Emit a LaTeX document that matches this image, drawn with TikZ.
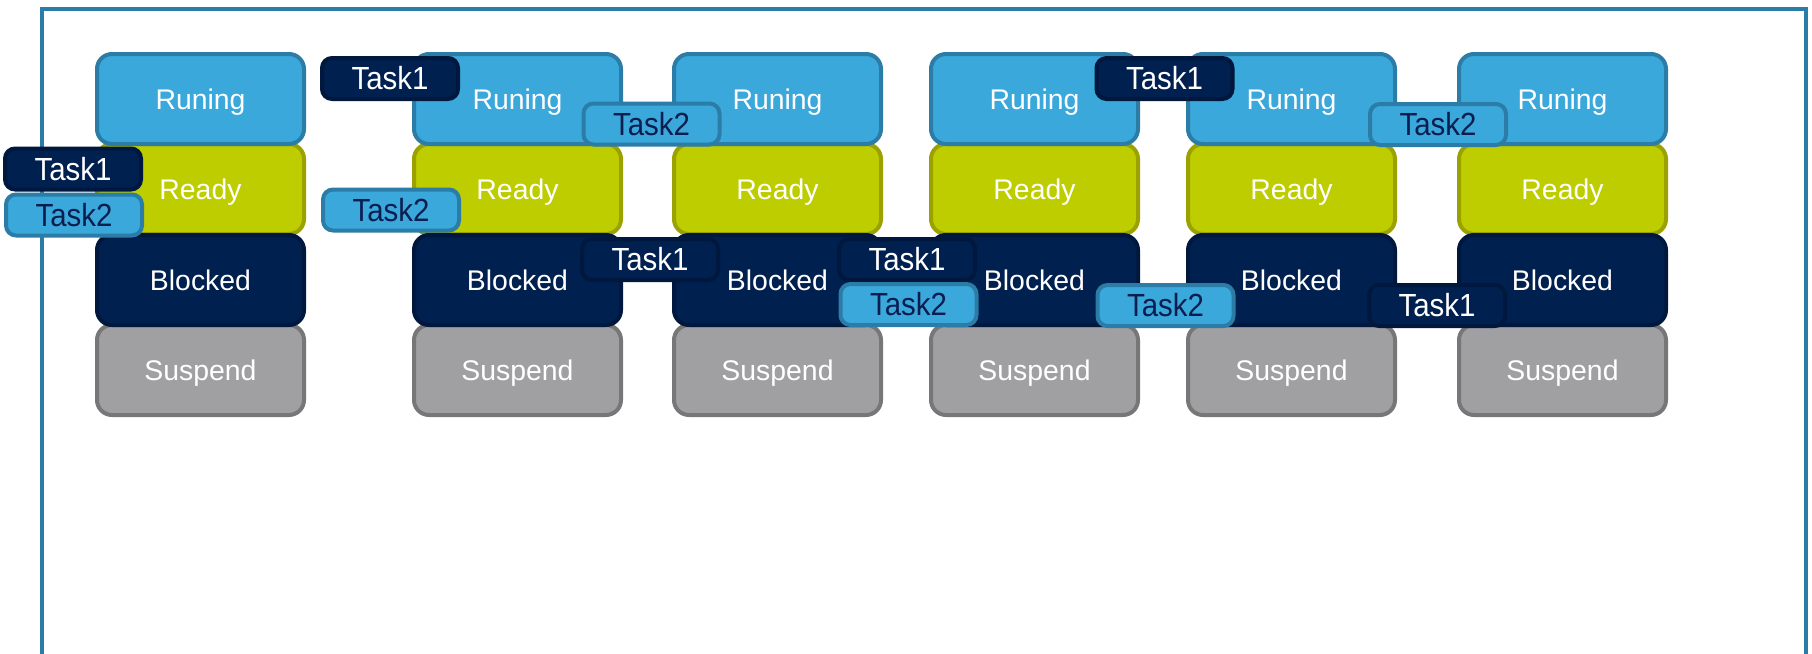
\documentclass[tikz,border=0pt]{standalone}
\usepackage{fontspec}
\setmainfont{Liberation Sans}
\newfontfamily\tagfont[FakeStretch=0.92]{Liberation Sans}
\definecolor{runfill}{HTML}{3AA8DB}
\definecolor{runline}{HTML}{2B7CA6}
\definecolor{rdyfill}{HTML}{BDCD00}
\definecolor{rdyline}{HTML}{9BA200}
\definecolor{blkfill}{HTML}{00204F}
\definecolor{blkline}{HTML}{00183D}
\definecolor{susfill}{HTML}{A0A0A2}
\definecolor{susline}{HTML}{777777}
\definecolor{tasktext}{HTML}{0A1E50}
\tikzset{
  statebox/.style={draw, line width=2pt, rounded corners=7.5pt, minimum width=103.5pt, minimum height=45pt,
    inner sep=0pt, outer sep=0pt, text=white, font=\fontsize{14.2}{16}\selectfont, text height=10.1pt, text depth=0pt},
  runbox/.style={statebox, fill=runfill, draw=runline},
  rdybox/.style={statebox, fill=rdyfill, draw=rdyline},
  blkbox/.style={statebox, fill=blkfill, draw=blkline},
  susbox/.style={statebox, fill=susfill, draw=susline},
  tagbox/.style={draw, line width=2pt, rounded corners=5pt, minimum width=68pt, minimum height=20.5pt,
    inner sep=0pt, outer sep=0pt, font=\tagfont\fontsize{16}{18}\selectfont, text height=11.4pt, text depth=0pt},
  taskone/.style={tagbox, fill=blkfill, draw=blkline, text=white},
  tasktwo/.style={tagbox, fill=runfill, draw=runline, text=tasktext},
  frameline/.style={draw=runline, line width=2pt}
}
\begin{document}
\begin{tikzpicture}[x=0.5pt, y=-0.5pt]
\useasboundingbox (0,0) rectangle (1812,654);
% frame
\coordinate (fbl) at (42,654);
\coordinate (ftl) at (42,9);
\coordinate (ftr) at (1806,9);
\coordinate (fbr) at (1806,654);
\draw[frameline] (fbl) -- (ftl) -- (ftr) -- (fbr);
% columns
\foreach \i/\x in {1/200.5, 2/517.5, 3/777.5, 4/1034.5, 5/1291.5, 6/1562.5} {
  \node[susbox] (s\i) at (\x,370) {Suspend};
  \node[rdybox] (d\i) at (\x,189) {Ready};
  \node[runbox] (r\i) at (\x,99) {Runing};
  \node[blkbox] (b\i) at (\x,280) {Blocked};
}
% task tags
\node[taskone] (a1) at (73,169) {Task1};
\node[tasktwo] (c1) at (74,215) {Task2};
\node[taskone] (a2) at (390,78.5) {Task1};
\node[tasktwo] (c2) at (391,210) {Task2};
\node[tasktwo] (c3) at (651.5,124) {Task2};
\node[taskone] (a3) at (650,259.5) {Task1};
\node[taskone] (a4) at (907,259.5) {Task1};
\node[tasktwo] (c4) at (908.5,304.5) {Task2};
\node[taskone] (a5) at (1164.5,78.5) {Task1};
\node[tasktwo] (c5) at (1165.5,305.5) {Task2};
\node[tasktwo] (c6) at (1438,124.5) {Task2};
\node[taskone] (a6) at (1437,305.5) {Task1};
\end{tikzpicture}
\end{document}
